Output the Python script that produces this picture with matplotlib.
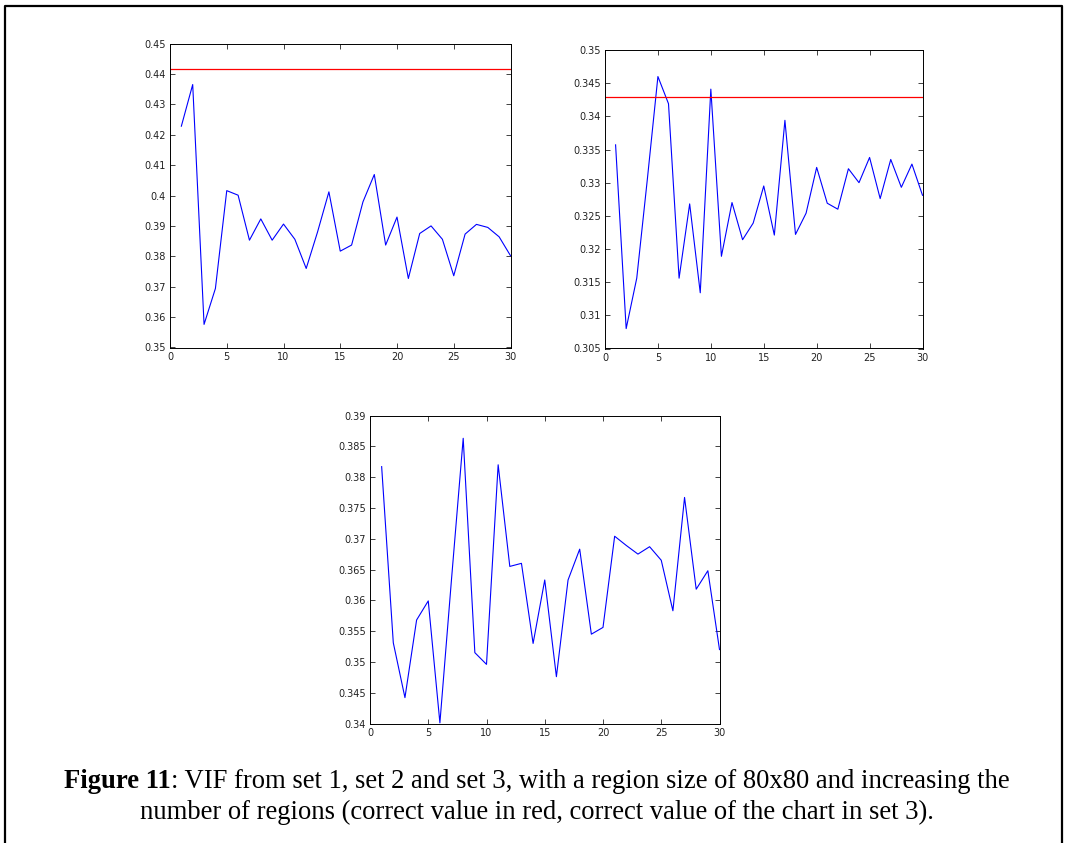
import numpy as np
import matplotlib.pyplot as plt
from matplotlib.lines import Line2D
from matplotlib.ticker import FormatStrFormatter, MultipleLocator

W, H = 1066, 843

# set 1
x = np.arange(1, 31)
set1 = [0.4228, 0.4365, 0.3576, 0.3694, 0.4016, 0.4001, 0.3853, 0.3923, 0.3853, 0.3906,
        0.3856, 0.3760, 0.3880, 0.4012, 0.3817, 0.3837, 0.3979, 0.4069, 0.3837, 0.3929,
        0.3727, 0.3875, 0.3900, 0.3856, 0.3736, 0.3873, 0.3905, 0.3895, 0.3864, 0.3802]
ref1 = 0.4416
# set 2
set2 = [0.3357, 0.3080, 0.3156, 0.3305, 0.3460, 0.3419, 0.3156, 0.3268, 0.3134, 0.3441,
        0.3189, 0.3270, 0.3214, 0.3239, 0.3295, 0.3221, 0.3394, 0.3222, 0.3254, 0.3323,
        0.3269, 0.3260, 0.3321, 0.3300, 0.3338, 0.3276, 0.3335, 0.3293, 0.3328, 0.3281]
ref2 = 0.3429
# set 3
set3 = [0.3817, 0.3531, 0.3442, 0.3568, 0.3599, 0.3401, 0.3635, 0.3863, 0.3515, 0.3496,
        0.3820, 0.3655, 0.3660, 0.3530, 0.3633, 0.3476, 0.3633, 0.3683, 0.3545, 0.3556,
        0.3704, 0.3689, 0.3675, 0.3687, 0.3665, 0.3583, 0.3767, 0.3618, 0.3648, 0.3520]

caption1 = ": VIF from set 1, set 2 and set 3, with a region size of 80x80 and increasing the"
caption2 = "number of regions (correct value in red, correct value of the chart in set 3)."

fig = plt.figure(figsize=(W / 100, H / 100), dpi=100)


def box(l, r, t, b):
    return [l / W, 1 - b / H, (r - l) / W, (b - t) / H]


def style(ax, ylo, yhi, ystep):
    ax.set_xlim(0, 30)
    ax.set_ylim(ylo, yhi)
    ax.xaxis.set_major_locator(MultipleLocator(5))
    ax.yaxis.set_major_locator(MultipleLocator(ystep))
    ax.xaxis.set_major_formatter(FormatStrFormatter('%g'))
    # matlab style labels: 0.4 not 0.400
    ax.yaxis.set_major_formatter(plt.FuncFormatter(lambda v, p: ('%.3f' % v).rstrip('0').rstrip('.')))
    ax.tick_params(direction='in', top=True, right=True, length=3.5, width=0.6,
                   labelsize=7, colors='#222222', pad=3)
    for s in ax.spines.values():
        s.set_linewidth(0.7)


ax1 = fig.add_axes(box(170, 510.5, 43.5, 347.5))
ax1.plot(x, set1, color='blue', lw=0.8)
ax1.axhline(ref1, color='red', lw=0.9)
style(ax1, 0.35, 0.45, 0.01)

ax2 = fig.add_axes(box(605, 922.5, 50, 348.5))
ax2.plot(x, set2, color='blue', lw=0.8)
ax2.axhline(ref2, color='red', lw=0.9)
style(ax2, 0.305, 0.35, 0.005)

ax3 = fig.add_axes(box(370, 719.5, 415.5, 723.5))
ax3.plot(x, set3, color='blue', lw=0.8)
style(ax3, 0.34, 0.39, 0.005)

# caption, bold part then normal part, centred together
fig.canvas.draw()
r = fig.canvas.get_renderer()
fs = 19.2
cy1 = 1 - 781 / H
t1 = fig.text(0, cy1, "Figure 11", family='Liberation Serif', weight='bold', fontsize=fs, va='center')
t2 = fig.text(0, cy1, caption1, family='Liberation Serif', fontsize=fs, va='center')
w1 = t1.get_window_extent(r).width
w2 = t2.get_window_extent(r).width
x0 = (537 - (w1 + w2) / 2) / W
t1.set_x(x0)
t2.set_x(x0 + w1 / W)
fig.text(537 / W, 1 - 812 / H, caption2, family='Liberation Serif', fontsize=fs,
         va='center', ha='center')

# page frame
fx = [4.5 / W, 4.5 / W, 1061.5 / W, 1061.5 / W]
fy = [0, 1 - 5.5 / H, 1 - 5.5 / H, 0]
fig.add_artist(Line2D(fx, fy, color='black', lw=1.6, transform=fig.transFigure))

fig.savefig('out.png', dpi=100)
